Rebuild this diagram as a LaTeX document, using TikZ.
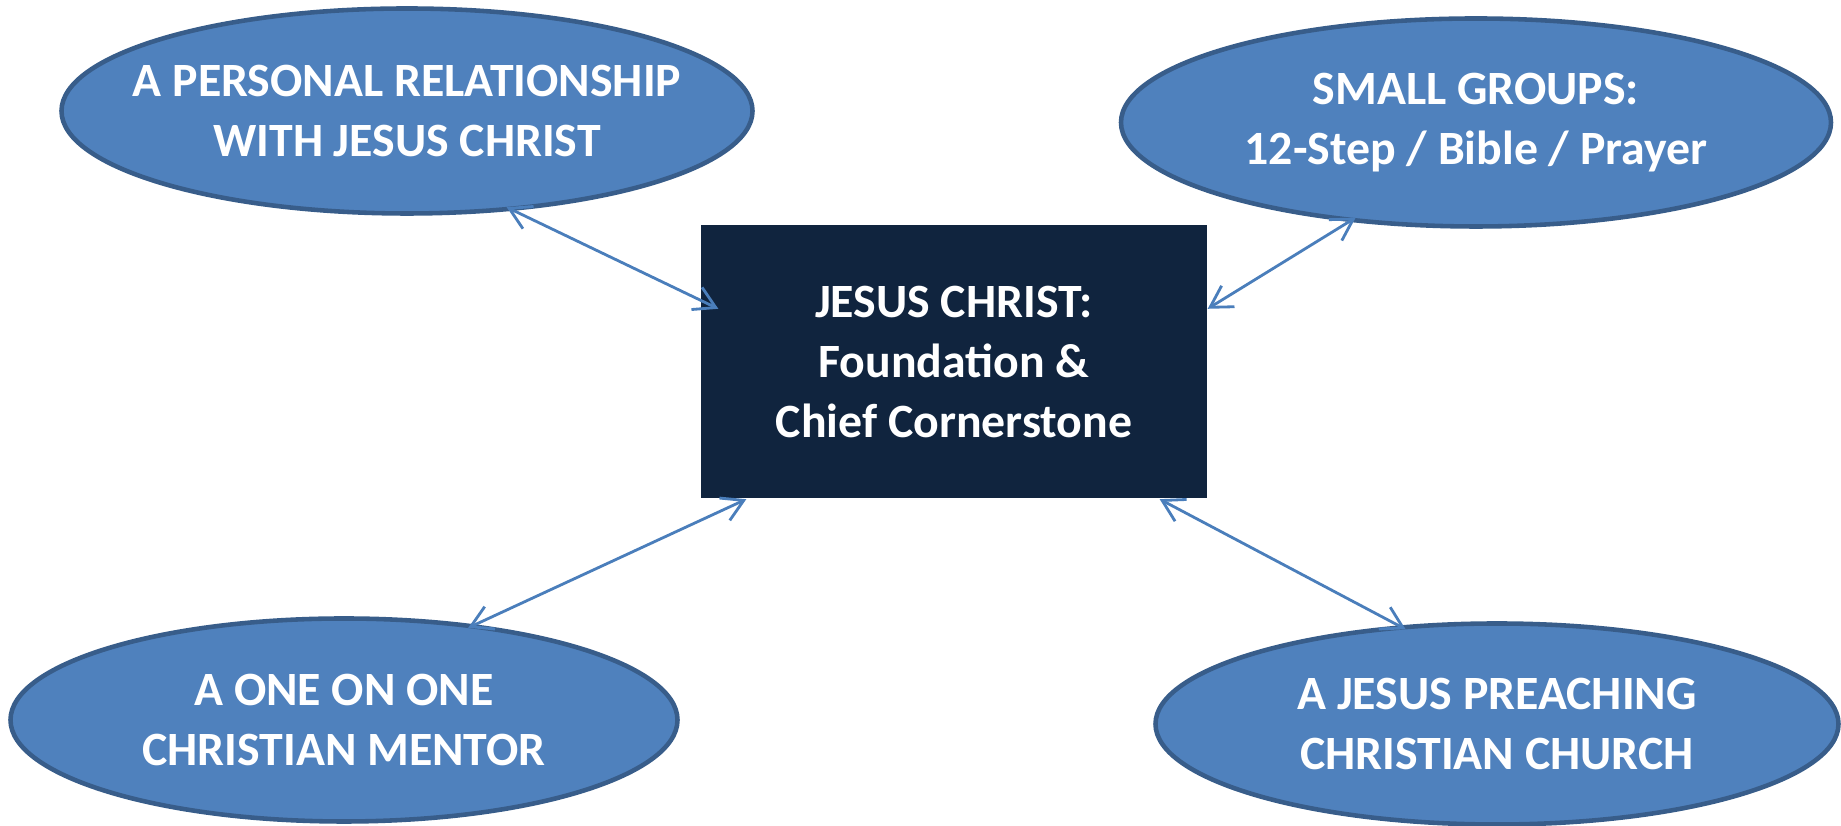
\documentclass[tikz,border=0pt]{standalone}
\usepackage{fontspec}
\setmainfont{Carlito}
\usetikzlibrary{shapes.geometric,arrows.meta}
\definecolor{azul}{HTML}{4F81BD}
\definecolor{azulborda}{HTML}{385D8A}
\definecolor{azulseta}{HTML}{4A7EBB}
\definecolor{marinho}{HTML}{10243E}

\begin{document}
\begin{tikzpicture}[
            bolha/.style={ellipse, draw=azulborda, fill=azul, line width=1.3pt},
            rotulo/.style={text=white, font=\fontsize{13.6}{17}\selectfont\bfseries, align=center},
            caixa/.style={rectangle, fill=marinho, minimum width=5.06cm, minimum height=2.73cm, rotulo},
            seta/.style={draw=azulseta, line width=0.8pt, shorten <=-0.08cm,
                {Straight Barb[length=6pt,width=7pt]}-{Straight Barb[length=6pt,width=7pt]}},
        ]
        \useasboundingbox (0,0) rectangle (18.41,8.26);

        \node[caixa] (j) at (9.54,4.64) {JESUS CHRIST:\\Foundation \&\\Chief Cornerstone};
        \node[bolha, minimum width=6.91cm, minimum height=2.05cm,
            label={[rotulo]center:{A PERSONAL RELATIONSHIP\\WITH JESUS CHRIST}}] (r) at (4.07,7.15) {};
        \node[bolha, minimum width=7.10cm, minimum height=2.08cm,
            label={[rotulo]center:{SMALL GROUPS:\\12-Step / Bible / Prayer}}] (g) at (14.76,7.035) {};
        \node[bolha, minimum width=6.67cm, minimum height=2.03cm,
            label={[rotulo]center:{A ONE ON ONE\\CHRISTIAN MENTOR}}] (m) at (3.44,1.06) {};
        \node[bolha, minimum width=6.83cm, minimum height=2.01cm,
            label={[rotulo]center:{A JESUS PREACHING\\CHRISTIAN CHURCH}}] (c) at (14.97,1.02) {};

        \draw[seta] (r.-43) -- ([shift={(0.18,-0.84)}]j.north west);
        \draw[seta] (g.-142) -- ([yshift=-0.84cm]j.north east);
        \draw[seta] (m.36) -- ([xshift=0.46cm]j.south west);
        \draw[seta] (c.135) -- ([xshift=-0.48cm]j.south east);

    \end{tikzpicture}
\end{document}
